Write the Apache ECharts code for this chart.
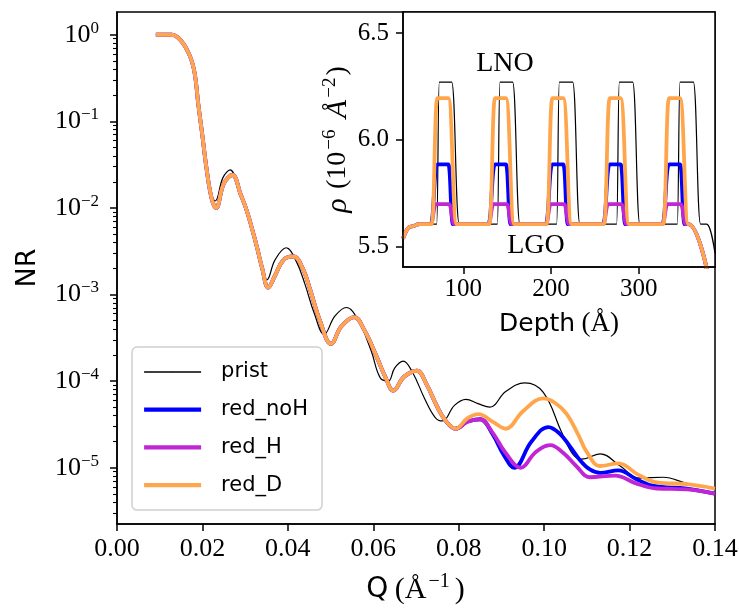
<!DOCTYPE html>
<html>
<head>
<meta charset="utf-8">
<script src="https://cdn.jsdelivr.net/npm/echarts@6/dist/echarts.min.js"></script>
<style>
  html, body { margin: 0; background: #fff; }
  #chart { width: 739px; height: 612px; }
</style>
</head>
<body>
<div id="chart"></div>
<script>
// main panel: Q in 1/A, reflectivity given as log10(NR)
const qPrist = [0.0091, 0.0128, 0.0150, 0.0171, 0.0182, 0.0190, 0.0200, 0.0210, 0.0222, 0.0230,
  0.0248, 0.0265, 0.0285, 0.0300, 0.0322, 0.0337, 0.0351, 0.0370, 0.0396, 0.0420,
  0.0440, 0.0462, 0.0485, 0.0510, 0.0537, 0.0565, 0.0595, 0.0616, 0.0635, 0.0650,
  0.0670, 0.0692, 0.0720, 0.0745, 0.0762, 0.0790, 0.0817, 0.0845, 0.0873, 0.0910,
  0.0955, 0.0998, 0.1041, 0.1068, 0.1088, 0.1131, 0.1178, 0.1222, 0.1279, 0.1334, 0.1400]
const lgPrist = [0, 0, -0.07, -0.25, -0.45, -0.79, -1.17, -1.56, -1.86, -1.92,
  -1.65, -1.56, -1.80, -2.00, -2.38, -2.65, -2.83, -2.60, -2.46, -2.62,
  -2.88, -3.22, -3.46, -3.25, -3.15, -3.30, -3.65, -3.96, -4.00, -3.85,
  -3.77, -3.90, -4.20, -4.42, -4.46, -4.28, -4.21, -4.26, -4.30, -4.12,
  -4.02, -4.13, -4.59, -4.85, -4.90, -4.84, -4.98, -5.12, -5.11, -5.18, -5.24]

const qRedD = [0.0091, 0.0128, 0.0150, 0.0171, 0.0182, 0.0190, 0.0200, 0.0210, 0.0222, 0.0232,
  0.0250, 0.0270, 0.0290, 0.0305, 0.0327, 0.0340, 0.0354, 0.0370, 0.0390, 0.0413,
  0.0435, 0.0452, 0.0475, 0.0501, 0.0525, 0.0555, 0.0580, 0.0608, 0.0628, 0.0647,
  0.0672, 0.0702, 0.0725, 0.0749, 0.0770, 0.0793, 0.0820, 0.0846, 0.0880, 0.0910,
  0.0950, 0.0998, 0.1025, 0.1053, 0.1080, 0.1100, 0.1131, 0.1174, 0.1220, 0.1264, 0.1334, 0.1400]
const lgRedD = [0, 0, -0.07, -0.25, -0.45, -0.79, -1.17, -1.56, -1.90, -2.00,
  -1.72, -1.62, -1.85, -2.05, -2.44, -2.70, -2.92, -2.78, -2.60, -2.56,
  -2.70, -2.94, -3.30, -3.57, -3.37, -3.26, -3.42, -3.72, -3.95, -4.11,
  -3.95, -3.88, -4.04, -4.29, -4.46, -4.55, -4.43, -4.38, -4.47, -4.55,
  -4.35, -4.20, -4.25, -4.38, -4.62, -4.82, -4.98, -4.95, -5.08, -5.17, -5.19, -5.24]

const qRedNoH = [0.0091, 0.0128, 0.0150, 0.0171, 0.0182, 0.0190, 0.0200, 0.0210, 0.0222, 0.0232,
  0.0250, 0.0270, 0.0290, 0.0305, 0.0327, 0.0340, 0.0354, 0.0370, 0.0390, 0.0413,
  0.0435, 0.0452, 0.0475, 0.0501, 0.0525, 0.0555, 0.0580, 0.0608, 0.0628, 0.0647,
  0.0672, 0.0702, 0.0725, 0.0749, 0.0770, 0.0793, 0.0820, 0.0850, 0.0880, 0.0905,
  0.0930, 0.0970, 0.1010, 0.1035, 0.1060, 0.1085, 0.1107, 0.1131, 0.1174, 0.1215, 0.1256, 0.1334, 0.1400]
const lgRedNoH = [0, 0, -0.07, -0.25, -0.45, -0.79, -1.17, -1.56, -1.90, -2.00,
  -1.72, -1.62, -1.85, -2.05, -2.44, -2.70, -2.92, -2.78, -2.60, -2.56,
  -2.70, -2.94, -3.30, -3.57, -3.37, -3.26, -3.42, -3.72, -3.95, -4.11,
  -3.95, -3.88, -4.04, -4.29, -4.46, -4.55, -4.47, -4.44, -4.62, -4.85,
  -5.00, -4.70, -4.53, -4.60, -4.75, -4.92, -5.02, -5.06, -5.03, -5.13, -5.21, -5.24, -5.30]

const qRedH = [0.0091, 0.0128, 0.0150, 0.0171, 0.0182, 0.0190, 0.0200, 0.0210, 0.0222, 0.0232,
  0.0250, 0.0270, 0.0290, 0.0305, 0.0327, 0.0340, 0.0354, 0.0370, 0.0390, 0.0413,
  0.0435, 0.0452, 0.0475, 0.0501, 0.0525, 0.0555, 0.0580, 0.0608, 0.0628, 0.0647,
  0.0672, 0.0702, 0.0725, 0.0749, 0.0770, 0.0793, 0.0820, 0.0850, 0.0880, 0.0910,
  0.0945, 0.0980, 0.1014, 0.1045, 0.1075, 0.1107, 0.1166, 0.1215, 0.1264, 0.1334, 0.1400]
const lgRedH = [0, 0, -0.07, -0.25, -0.45, -0.79, -1.17, -1.56, -1.90, -2.00,
  -1.72, -1.62, -1.85, -2.05, -2.44, -2.70, -2.92, -2.78, -2.60, -2.56,
  -2.70, -2.94, -3.30, -3.57, -3.37, -3.26, -3.42, -3.72, -3.95, -4.11,
  -3.95, -3.88, -4.04, -4.29, -4.46, -4.55, -4.47, -4.44, -4.60, -4.83,
  -5.00, -4.82, -4.74, -4.83, -4.98, -5.11, -5.09, -5.18, -5.24, -5.25, -5.30]

// inset: SLD profile, depth in A, rho in 1e-6 A^-2
const dPrist = [31.2, 40, 50.4, 69.6, 72.6, 86.7, 95.4, 138.8, 141.8, 156.2, 164.6,
  206.4, 209.5, 224.7, 233.0, 274.8, 277.9, 293.1, 301.4, 344.0, 347.1, 362.3, 370.6, 377.5, 387]
const rhoPrist = [5.539, 5.595, 5.606, 5.606, 6.27, 6.27, 5.606, 5.606, 6.27, 6.27, 5.606,
  5.606, 6.27, 6.27, 5.606, 5.606, 6.27, 6.27, 5.606, 5.606, 6.27, 6.27, 5.606, 5.606, 5.47]

const dRedNoH = [31.2, 40, 50.4, 62.7, 70.3, 82.9, 88.2, 128.5, 136.1, 148.6, 154.0,
  193.9, 201.5, 214.0, 219.3, 259.3, 266.9, 279.4, 284.7, 326.9, 334.5, 347.1, 352.4, 356.6, 380]
const rhoRedNoH = [5.539, 5.595, 5.606, 5.606, 5.886, 5.886, 5.606, 5.606, 5.886, 5.886, 5.606,
  5.606, 5.886, 5.886, 5.606, 5.606, 5.886, 5.886, 5.606, 5.606, 5.886, 5.886, 5.606, 5.606, 5.35]

const dRedH = [31.2, 40, 50.4, 62.7, 68.8, 83.7, 89.7, 128.5, 134.6, 149.4, 155.5,
  193.9, 200.0, 214.8, 220.9, 259.3, 265.3, 280.2, 286.2, 326.9, 333.0, 347.8, 353.9, 356.6, 380]
const rhoRedH = [5.539, 5.595, 5.606, 5.606, 5.70, 5.70, 5.606, 5.606, 5.70, 5.70, 5.606,
  5.606, 5.70, 5.70, 5.606, 5.606, 5.70, 5.70, 5.606, 5.606, 5.70, 5.70, 5.606, 5.606, 5.35]

const dRedD = [31.2, 40, 50.4, 63.9, 70.3, 82.9, 92.4, 129.6, 136.1, 148.6, 158.1,
  195.0, 201.5, 214.0, 223.5, 260.4, 266.9, 279.4, 288.9, 328.0, 334.5, 347.1, 356.6, 380]
const rhoRedD = [5.539, 5.595, 5.606, 5.606, 6.195, 6.195, 5.606, 5.606, 6.195, 6.195, 5.606,
  5.606, 6.195, 6.195, 5.606, 5.606, 6.195, 6.195, 5.606, 5.606, 6.195, 6.195, 5.606, 5.35]

const nrTicks = [1e-5, 1e-4, 1e-3, 1e-2, 1e-1, 1]
const depthTicks = [100, 200, 300]
const rhoTicks = [5.5, 6.0, 6.5]

const names = ['prist', 'red_noH', 'red_H', 'red_D']
const colors = ['#000000', '#0000ff', '#c026d3', '#ffa64d']
const widths = [1.2, 3.8, 3.8, 3.8]

const serif = 'Liberation Serif'
const sans = 'DejaVu Sans'

const nrMinor = []
for (let k = -6; k <= -1; k++) {
  for (let m = 2; m <= 9; m++) {
    const v = m * Math.pow(10, k)
    if (v > 2.24e-6 && v < 1.83) nrMinor.push(v)
  }
}

const toPairs = (xs, ys, log) => xs.map((x, i) => [x, log ? Math.pow(10, ys[i]) : ys[i]])

const mainData = [
  toPairs(qPrist, lgPrist, true),
  toPairs(qRedNoH, lgRedNoH, true),
  toPairs(qRedH, lgRedH, true),
  toPairs(qRedD, lgRedD, true)
]
const insetData = [
  toPairs(dPrist, rhoPrist),
  toPairs(dRedNoH, rhoRedNoH),
  toPairs(dRedH, rhoRedH),
  toPairs(dRedD, rhoRedD)
]

const supRich = {
  b: { fontFamily: serif, fontSize: 26, lineHeight: 30, color: '#000' },
  s: { fontFamily: serif, fontSize: 17, lineHeight: 17, verticalAlign: 'top', color: '#000' }
}

const chart = echarts.init(document.getElementById('chart'))

const series = []
names.forEach((name, i) => {
  series.push({
    name: name,
    type: 'line',
    xAxisIndex: 0,
    yAxisIndex: 0,
    data: mainData[i],
    symbol: 'none',
    smooth: 0.4,
    lineStyle: { color: colors[i], width: widths[i] },
    itemStyle: { color: colors[i] },
    z: 2
  })
})
names.forEach((name, i) => {
  series.push({
    name: name,
    type: 'line',
    xAxisIndex: 1,
    yAxisIndex: 2,
    data: insetData[i],
    symbol: 'none',
    smooth: 0.5,
    smoothMonotone: 'x',
    lineStyle: { color: colors[i], width: widths[i] },
    itemStyle: { color: colors[i] },
    z: 4
  })
})

chart.setOption({
  animation: false,
  backgroundColor: '#fff',
  grid: [
    { left: 117, top: 12, width: 598, height: 512, show: true, borderColor: '#000', borderWidth: 1.5, outerBoundsMode: 'none', z: 0 },
    { left: 403, top: 12, width: 312, height: 255, show: true, borderColor: '#000', borderWidth: 1.5, backgroundColor: '#fff', outerBoundsMode: 'none', z: 3 }
  ],
  legend: {
    orient: 'vertical',
    left: 132,
    top: 347,
    data: names.map((n, i) => ({ name: n, lineStyle: { width: widths[i] + 0.4, color: colors[i] } })),
    itemWidth: 57,
    itemHeight: 1,
    itemGap: 13.7,
    padding: [13, 14, 13, 10],
    backgroundColor: 'rgba(255,255,255,0.8)',
    borderColor: '#d0d0d0',
    borderWidth: 1.5,
    borderRadius: 5,
    textStyle: { fontFamily: sans, fontSize: 21, color: '#000', lineHeight: 24, padding: [0, 0, 0, 15] }
  },
  xAxis: [
    {
      type: 'value',
      gridIndex: 0,
      min: 0,
      max: 0.14,
      interval: 0.02,
      name: '{s|Q} {r|(Å}{sup|−1}{r|)}',
      nameLocation: 'middle',
      nameGap: 48,
      nameTextStyle: {
        rich: {
          s: { fontFamily: sans, fontSize: 28, lineHeight: 36, color: '#000' },
          r: { fontFamily: serif, fontSize: 30, lineHeight: 36, color: '#000', padding: [0, 1, 0, 3] },
          sup: { fontFamily: serif, fontSize: 20, lineHeight: 20, verticalAlign: 'top', color: '#000', padding: [0, 2, 0, 1] }
        }
      },
      axisLine: { lineStyle: { color: '#000', width: 1.5 } },
      axisTick: { length: 7, lineStyle: { color: '#000', width: 1.5 } },
      axisLabel: {
        margin: 12,
        fontFamily: serif,
        fontSize: 26,
        color: '#000',
        formatter: v => v.toFixed(2)
      },
      splitLine: { show: false }
    },
    {
      type: 'value',
      gridIndex: 1,
      min: 31.2,
      max: 387,
      name: '{s|Depth} {r|(Å)}',
      nameLocation: 'middle',
      nameGap: 42,
      nameTextStyle: {
        rich: {
          s: { fontFamily: sans, fontSize: 25, lineHeight: 30, color: '#000' },
          r: { fontFamily: serif, fontSize: 27, lineHeight: 30, color: '#000', padding: [0, 0, 0, 3] }
        }
      },
      axisLine: { lineStyle: { color: '#000', width: 1.5 } },
      axisTick: { length: 7, customValues: depthTicks, lineStyle: { color: '#000', width: 1.5 } },
      axisLabel: { margin: 10, customValues: depthTicks, fontFamily: serif, fontSize: 25, color: '#000' },
      splitLine: { show: false },
      z: 5
    }
  ],
  yAxis: [
    {
      type: 'log',
      gridIndex: 0,
      logBase: 10,
      min: 2.24e-6,
      max: 1.83,
      position: 'left',
      name: 'NR',
      nameLocation: 'middle',
      nameGap: 76,
      nameRotate: 90,
      nameTextStyle: { fontFamily: sans, fontSize: 27, color: '#000' },
      axisLine: { show: true, lineStyle: { color: '#000', width: 1.5 } },
      axisTick: { length: 7, customValues: nrTicks, lineStyle: { color: '#000', width: 1.5 } },
      axisLabel: {
        margin: 18,
        customValues: nrTicks,
        formatter: v => {
          const e = Math.round(Math.log10(v))
          return '{b|10}{s|' + (e < 0 ? '−' + (-e) : e) + '}'
        },
        rich: supRich
      },
      splitLine: { show: false }
    },
    {
      type: 'log',
      gridIndex: 0,
      logBase: 10,
      min: 2.24e-6,
      max: 1.83,
      position: 'left',
      axisLine: { show: false },
      axisTick: { length: 4, customValues: nrMinor, lineStyle: { color: '#000', width: 1.1 } },
      axisLabel: { show: false },
      splitLine: { show: false }
    },
    {
      type: 'value',
      gridIndex: 1,
      min: 5.406,
      max: 6.598,
      name: '{i|ρ} {r|(10}{sup|−6} {a|Å}{sup|−2}{r|)}',
      nameLocation: 'middle',
      nameGap: 48,
      nameRotate: 90,
      nameTextStyle: {
        rich: {
          i: { fontFamily: serif, fontStyle: 'italic', fontSize: 30, lineHeight: 34, color: '#000', padding: [0, 6, 0, 0] },
          a: { fontFamily: serif, fontStyle: 'italic', fontSize: 30, lineHeight: 34, color: '#000', padding: [0, 0, 0, 6] },
          r: { fontFamily: serif, fontSize: 28, lineHeight: 34, color: '#000' },
          sup: { fontFamily: serif, fontSize: 19, lineHeight: 19, verticalAlign: 'top', color: '#000', padding: [0, 2, 0, 2] }
        }
      },
      axisLine: { show: true, lineStyle: { color: '#000', width: 1.5 } },
      axisTick: { length: 7, customValues: rhoTicks, lineStyle: { color: '#000', width: 1.5 } },
      axisLabel: {
        margin: 14,
        customValues: rhoTicks,
        fontFamily: serif,
        fontSize: 25,
        color: '#000',
        formatter: v => v.toFixed(1)
      },
      splitLine: { show: false },
      z: 5
    }
  ],
  graphic: [
    { type: 'text', x: 505, y: 64, z: 10, style: { text: 'LNO', font: '28px "Liberation Serif"', fill: '#000', align: 'center', verticalAlign: 'middle' } },
    { type: 'text', x: 536, y: 246, z: 10, style: { text: 'LGO', font: '28px "Liberation Serif"', fill: '#000', align: 'center', verticalAlign: 'middle' } }
  ],
  series: series
})

window.addEventListener('resize', () => chart.resize())
</script>
</body>
</html>
